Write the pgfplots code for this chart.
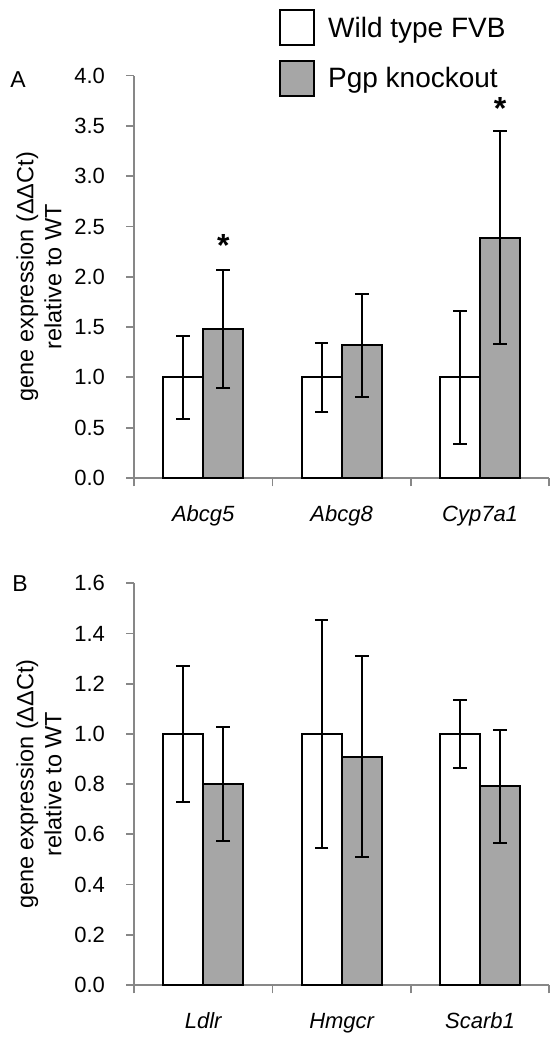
\documentclass[border=0pt]{standalone}
\usepackage{fontspec}
\setmainfont{Liberation Sans}
\usepackage{pgfplots}
\pgfplotsset{compat=1.18}
\definecolor{axgray}{HTML}{878787}
\definecolor{bargray}{HTML}{A6A6A6}
\pgfplotsset{
  myax/.style={
    scale only axis, width=415.3pt,
    xmin=-0.5, xmax=2.5, ymin=0,
    axis lines*=left,
    axis line style={axgray, line width=1.8pt},
    every tick/.style={axgray, line width=1.8pt},
    tick align=outside, tick pos=left,
    major tick length=7.5pt, minor tick length=8.3pt,
    xtick={0,1,2},
    major x tick style={draw=none},
    minor xtick={-0.5,0.5,1.5,2.5},
    /pgf/number format/assume math mode=true,
    yticklabel style={font=\fontsize{22}{26}\selectfont, xshift=-18pt, /pgf/number format/.cd, fixed, fixed zerofill, precision=1},
    xticklabel style={font=\fontsize{22}{26}\selectfont\itshape, yshift=-17pt},
    ylabel={gene expression (ΔΔCt)\\relative to WT},
    ylabel style={align=center, font=\fontsize{23.5}{28}\selectfont, at={(axis description cs:-0.2288,0.5)}, anchor=center},
    ybar, bar width=0.29,
    clip=false,
    error bars/y dir=both, error bars/y explicit,
    error bars/error bar style={black, line width=2pt},
    error bars/error mark options={black, line width=2pt, mark size=6.8pt, rotate=90},
  },
  wt/.style={draw=black, fill=white, line width=2pt, bar shift=-0.145},
  ko/.style={draw=black, fill=bargray, line width=2pt, bar shift=0.145},
}
\begin{document}
\begin{tikzpicture}
\path[use as bounding box] (0,0) rectangle (560pt,-1045pt);
\begin{axis}[myax, height=402.5pt, at={(134pt,-478pt)}, anchor=south west,
  ymax=4, ytick={0,0.5,...,4.0},
  xticklabels={Abcg5,Abcg8,Cyp7a1},
  legend style={at={(axis description cs:0.349,1.1645)}, anchor=north west, draw=none, fill=none,
    inner sep=0pt, nodes={inner sep=0pt}, font=\fontsize{28}{32}\selectfont, row sep=13.4pt, legend cell align=left,
    /tikz/every odd column/.append style={column sep=13pt}},
  legend image code/.code={\draw[#1, line width=2pt] (0pt,-17.5pt) rectangle (34pt,17.5pt);},
]
\addplot[wt] coordinates {(0,1.0) +- (0,0.41) (1,1.0) +- (0,0.345) (2,1.0) +- (0,0.66)};
\addplot[ko] coordinates {(0,1.48) +- (0,0.59) (1,1.32) +- (0,0.51) (2,2.39) +- (0,1.06)};
\legend{Wild type FVB, Pgp knockout}
\node[font=\fontsize{32}{32}\selectfont\bfseries] at (axis cs:0.145,2.31) {*};
\node[font=\fontsize{32}{32}\selectfont\bfseries] at (axis cs:2.145,3.67) {*};
\end{axis}
\begin{axis}[myax, height=401.7pt, at={(134pt,-985pt)}, anchor=south west,
  ymax=1.6, ytick={0,0.2,...,1.6},
  xticklabels={Ldlr,Hmgcr,Scarb1},
]
\addplot[wt] coordinates {(0,1.0) +- (0,0.272) (1,1.0) +- (0,0.455) (2,1.0) +- (0,0.136)};
\addplot[ko] coordinates {(0,0.80) +- (0,0.228) (1,0.91) +- (0,0.40) (2,0.792) +- (0,0.225)};
\end{axis}
\node[font=\fontsize{23}{27}\selectfont] at (18pt,-80pt) {A};
\node[font=\fontsize{23}{27}\selectfont] at (20pt,-584pt) {B};
\end{tikzpicture}
\end{document}
